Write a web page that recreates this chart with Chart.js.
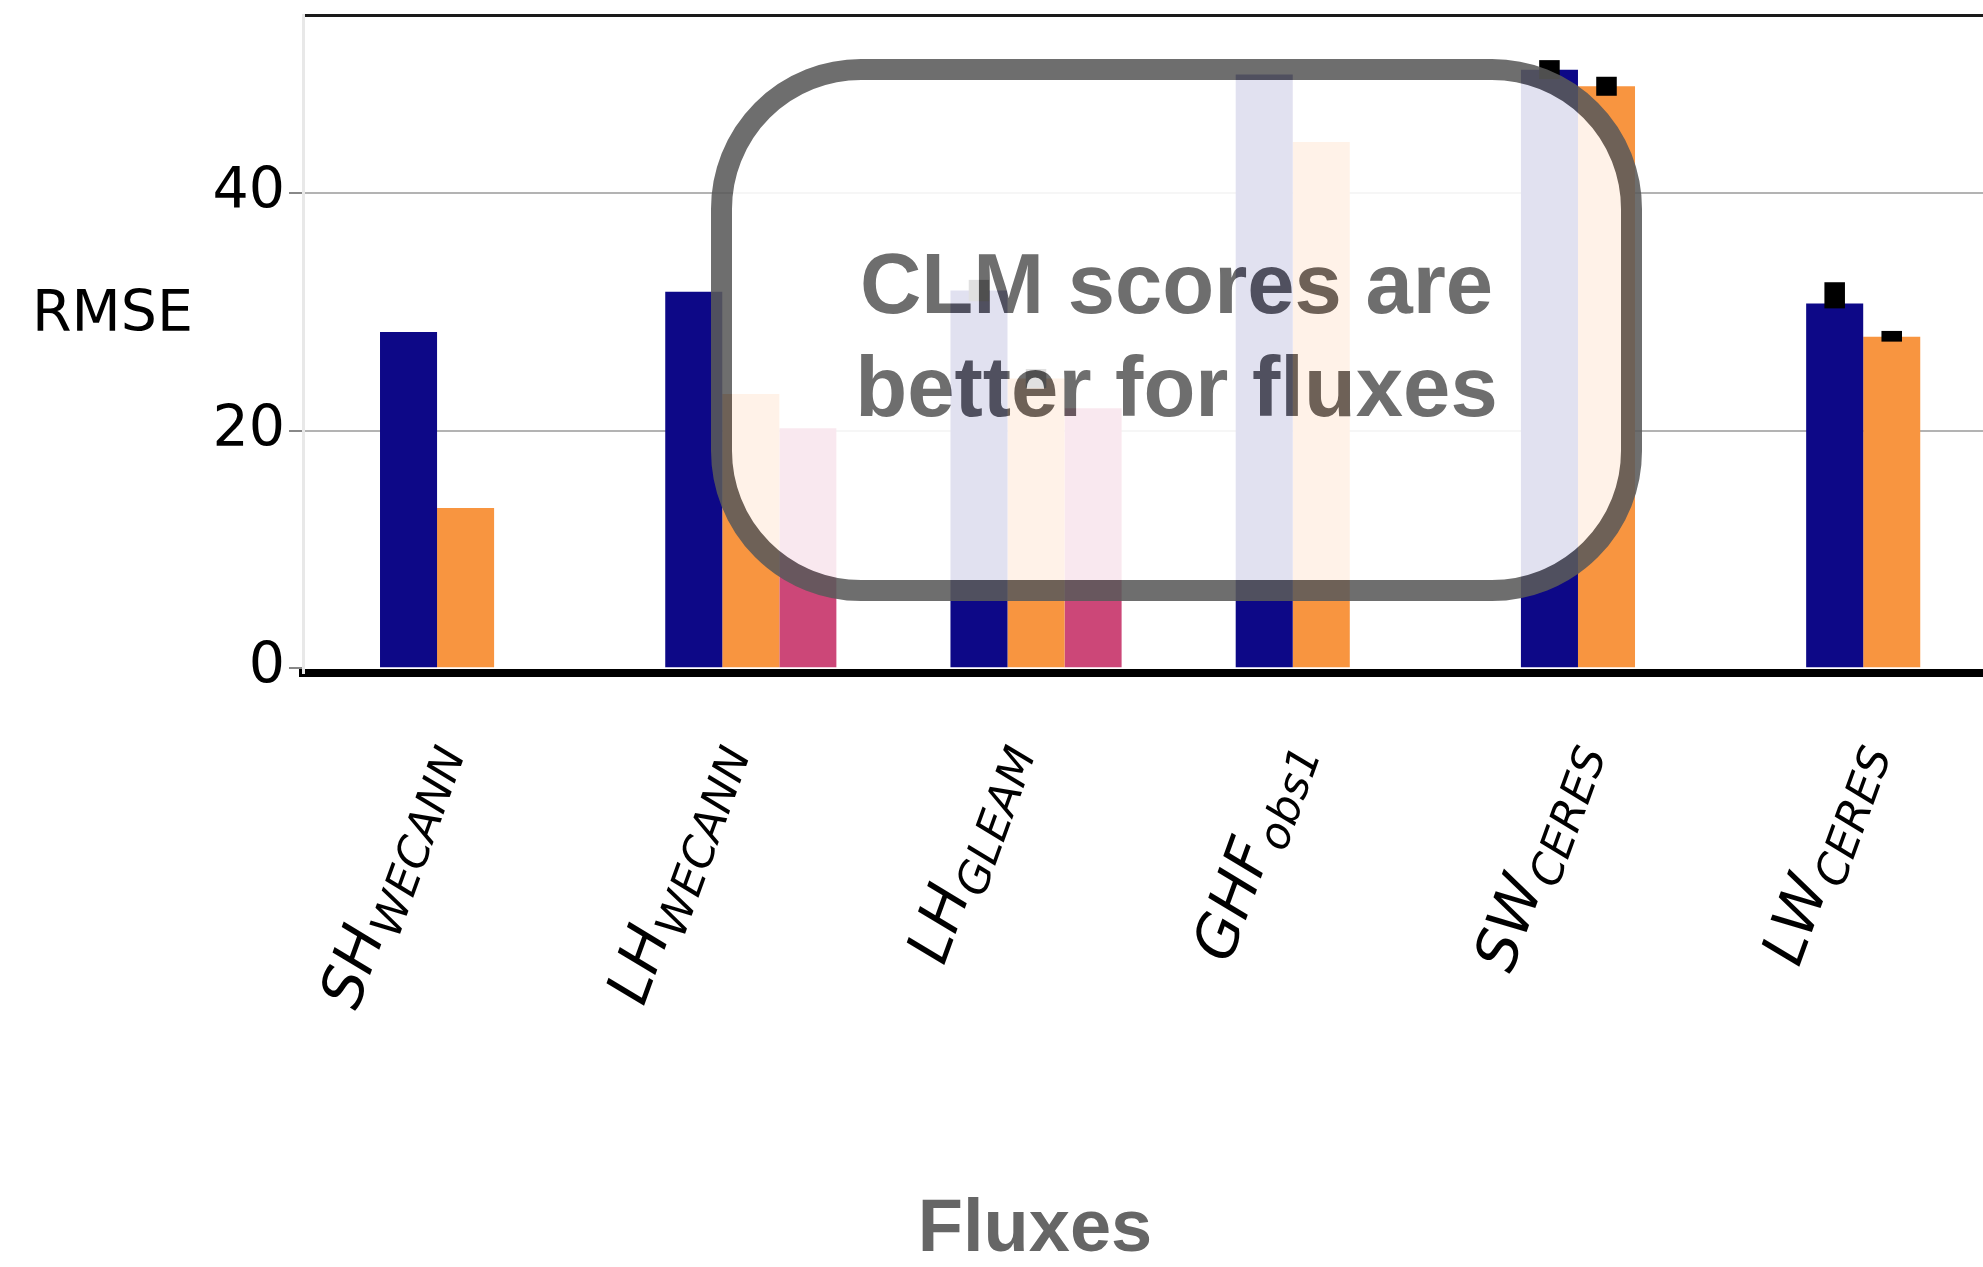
<!DOCTYPE html>
<html>
<head>
<meta charset="utf-8">
<title>RMSE by flux</title>
<script src="https://cdn.jsdelivr.net/npm/chart.js@4.4.0/dist/chart.umd.min.js"></script>
<style>
  html, body { margin: 0; padding: 0; background: #fff; overflow: hidden; }
  #wrap { position: relative; width: 1983px; height: 1267px; }
  #wrap canvas { position: absolute; left: 0; top: 0; }
  .ylabel { position: absolute; left: 32px; top: 283px; font: 57px 'DejaVu Sans', sans-serif; line-height: 57px; color: #000; }
  .xtitle { position: absolute; left: 835px; width: 400px; top: 1189px; text-align: center;
            font: bold 74px 'Liberation Sans', Arial, sans-serif; line-height: 74px; color: #666; }
  .callout { position: absolute; left: 711px; top: 59px; width: 931px; height: 542px; box-sizing: border-box;
             border: 21px solid #5a5a5a; border-radius: 150px; background: #fff; opacity: 0.88;
             display: flex; align-items: center; justify-content: center; text-align: center;
             font: bold 85px 'Liberation Sans', Arial, sans-serif; line-height: 103px; color: #5a5a5a;
             padding-top: 10px; }
</style>
</head>
<body>
<div id="wrap">
  <canvas id="rmseChart"></canvas>
  <div class="ylabel">RMSE</div>
  <div class="xtitle">Fluxes</div>
  <div class="callout">CLM scores are<br>better for fluxes</div>
</div>
<script>
// categories: flux name + reference dataset (drawn as subscript)
const fluxNames = ['SH', 'LH', 'LH', 'GHF', 'SW', 'LW'];
const fluxSources = ['WECANN', 'WECANN', 'GLEAM', 'obs1', 'CERES', 'CERES'];

// RMSE per run (null = no bar)
const seriesNames = ['run 1', 'run 2', 'run 3'];
const seriesColors = ['#0d0887', '#f89540', '#cc4778'];
const rmseRun1 = [28.3, 31.7, 31.8, 50.0, 50.4, 30.7];
const rmseRun2 = [13.5, 23.1, 24.4, 44.3, 49.0, 27.9];
const rmseRun3 = [null, 20.2, 21.9, null, null, null];

// error bar ranges (only where visible)
const run1Low = [null, null, 30.9, null, 49.6, 30.3];
const run1High = [null, null, 32.7, null, 51.2, 32.5];
const run2Low = [null, null, 23.6, null, 48.2, 27.5];
const run2High = [null, null, 25.2, null, 49.8, 28.4];

const yTicks = [0, 20, 40];

// black error bars on top of the bars
const errorBars = {
    id: 'errorBars',
    afterDatasetsDraw(chart) {
        const ys = chart.scales.y;
        const ctx = chart.ctx;
        ctx.save();
        ctx.fillStyle = '#000';
        [[run1Low, run1High], [run2Low, run2High]].forEach(([lo, hi], d) => {
            chart.getDatasetMeta(d).data.forEach((bar, i) => {
                if (lo[i] == null) return;
                const w = bar.width * 0.36;
                const top = ys.getPixelForValue(hi[i]);
                const bottom = ys.getPixelForValue(lo[i]);
                ctx.fillRect(bar.x - w / 2, top, w, bottom - top);
            });
        });
        ctx.restore();
    }
};

// rotated italic tick labels with subscripts
const fluxLabels = {
    id: 'fluxLabels',
    afterDraw(chart) {
        const xs = chart.scales.x;
        const ctx = chart.ctx;
        const big = 59, small = 44, drop = 14;
        const ang = 70 * Math.PI / 180;
        ctx.save();
        ctx.fillStyle = '#000';
        ctx.textBaseline = 'alphabetic';
        ctx.textAlign = 'left';
        fluxNames.forEach((name, i) => {
            ctx.font = 'italic ' + big + 'px "DejaVu Sans"';
            const w1 = ctx.measureText(name).width;
            ctx.font = 'italic ' + small + 'px "DejaVu Sans"';
            const w2 = ctx.measureText(fluxSources[i]).width;
            const x0 = xs.getPixelForValue(i) - drop * Math.sin(ang);
            const y0 = xs.top + 61 + big * 0.73 * Math.cos(ang);
            ctx.save();
            ctx.translate(x0, y0);
            ctx.rotate(-ang);
            ctx.font = 'italic ' + big + 'px "DejaVu Sans"';
            ctx.fillText(name, -(w1 + w2), 0);
            ctx.font = 'italic ' + small + 'px "DejaVu Sans"';
            ctx.fillText(fluxSources[i], -w2, drop);
            ctx.restore();
        });
        ctx.restore();
    }
};

const runs = [rmseRun1, rmseRun2, rmseRun3];

new Chart(document.getElementById('rmseChart'), {
    type: 'bar',
    data: {
        datasets: runs.map((vals, d) => ({
            label: seriesNames[d],
            data: vals.map((v, i) => ({ x: i, y: v })),
            backgroundColor: seriesColors[d],
            borderWidth: 0,
            categoryPercentage: 0.6,
            barPercentage: 1.0
        }))
    },
    options: {
        responsive: true,
        maintainAspectRatio: false,
        animation: false,
        layout: { padding: 0 },
        plugins: {
            legend: { display: false },
            tooltip: { enabled: false }
        },
        scales: {
            x: {
                type: 'linear',
                position: 'bottom',
                offset: false,
                min: -0.57,
                max: 5.32,
                afterBuildTicks: s => { s.ticks = fluxNames.map((_, i) => ({ value: i })); },
                grid: { display: false, drawTicks: false },
                ticks: { display: false },
                border: { color: '#000', width: 8 },
                afterFit: s => { s.height = 594; s.paddingLeft = 0; s.paddingRight = 0; }
            },
            xTop: {
                type: 'linear',
                axis: 'x',
                position: 'top',
                offset: false,
                grid: { display: false, drawTicks: false },
                ticks: { display: false },
                border: { color: '#1a1a1a', width: 3 },
                afterFit: s => { s.height = 15; s.paddingLeft = 0; s.paddingRight = 0; }
            },
            y: {
                min: -0.4,
                max: 55,
                afterBuildTicks: s => { s.ticks = yTicks.map(v => ({ value: v })); },
                ticks: {
                    color: '#000',
                    padding: 4,
                    font: { family: 'DejaVu Sans', size: 57 }
                },
                grid: {
                    color: c => (c.tick && c.tick.value === 0) ? 'rgba(0,0,0,0)' : '#b3b3b3',
                    lineWidth: 2,
                    tickColor: '#888',
                    tickLength: 14
                },
                border: { color: '#e8e8e8', width: 3 },
                afterFit: s => { s.width = 303; s.paddingTop = 0; s.paddingBottom = 0; }
            }
        }
    },
    plugins: [errorBars, fluxLabels]
});
</script>
</body>
</html>
